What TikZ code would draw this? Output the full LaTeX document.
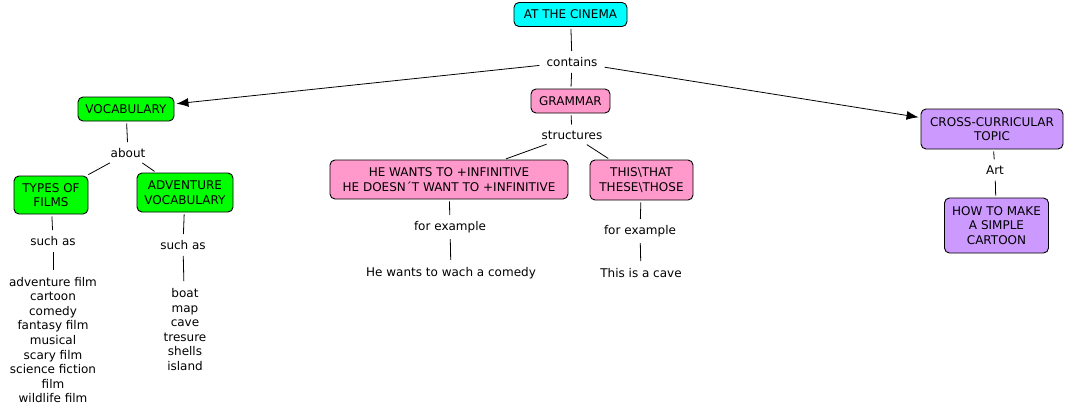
\documentclass[tikz,border=0pt]{standalone}
\usepackage{fontspec}
\setmainfont{DejaVu Sans}
\usetikzlibrary{arrows.meta}
\definecolor{cinemac}{HTML}{00FFFF}
\definecolor{vgreen}{HTML}{00FF00}
\definecolor{gpink}{HTML}{FF99CC}
\definecolor{cpurple}{HTML}{CC99FF}
\begin{document}
\begin{tikzpicture}[x=1pt,y=-1pt,
  font=\fontsize{12}{14.6}\selectfont,
  box/.style={draw=black, line width=0.9pt, rounded corners=5pt, align=center, inner xsep=6pt, inner ysep=2pt},
  lbl/.style={inner xsep=5pt, inner ysep=4pt, align=center},
  lst/.style={inner xsep=4pt, inner ysep=5pt, align=center},
  conn/.style={line width=0.8pt, shorten <=2pt, shorten >=2pt},
  arr/.style={conn, -{Latex[length=12pt,width=9pt]}}]
\useasboundingbox (0,0) rectangle (1066,413);
\fill[white] (0,0) rectangle (1066,413);
% nodes
\node[box, fill=cinemac, minimum width=113pt, minimum height=24pt] (cinema) at (570.5,14.5) {AT THE CINEMA};
\node[lbl] (contains) at (572,62) {contains};
\node[box, fill=vgreen, minimum width=96pt, minimum height=24pt] (vocab) at (126,109) {VOCABULARY};
\node[box, fill=gpink, minimum width=79pt, minimum height=24pt] (grammar) at (570.5,101) {GRAMMAR};
\node[box, fill=cpurple, minimum width=142pt, minimum height=40pt] (cross) at (992,129) {CROSS-CURRICULAR\\TOPIC};
\node[lbl] (about) at (128,153) {about};
\node[box, fill=vgreen, minimum width=74pt, minimum height=38pt] (types) at (51,195) {TYPES OF\\FILMS};
\node[box, fill=vgreen, minimum width=96pt, minimum height=39pt] (adv) at (185,192.5) {ADVENTURE\\VOCABULARY};
\node[lbl] (such1) at (53,241) {such as};
\node[lbl] (such2) at (183,245) {such as};
\node[lst] (films) at (53,340) {adventure film\\cartoon\\comedy\\fantasy film\\musical\\scary film\\science fiction\\film\\wildlife film};
\node[lst] (boats) at (185,329.5) {boat\\map\\cave\\tresure\\shells\\island};
\node[lbl] (structures) at (572,135) {structures};
\node[box, fill=gpink, minimum width=238pt, minimum height=39pt] (hewants) at (449,179.5) {HE WANTS TO +INFINITIVE\\HE DOESN´T WANT TO +INFINITIVE};
\node[box, fill=gpink, minimum width=103pt, minimum height=40pt] (this) at (641.5,180) {THIS\textbackslash THAT\\THESE\textbackslash THOSE};
\node[lbl] (fe1) at (450,227) {for example};
\node[lbl] (fe2) at (640,231) {for example};
\node[lst] (ex1) at (451,273) {He wants to wach a comedy};
\node[lst] (ex2) at (641,273) {This is a cave};
\node[lbl] (art) at (995,170) {Art};
\node[box, fill=cpurple, minimum width=104pt, minimum height=55pt] (howto) at (996.5,225.5) {HOW TO MAKE\\A SIMPLE\\CARTOON};
% connectors
\draw[conn] (cinema) -- (contains);
\draw[arr] (contains) -- (vocab);
\draw[conn] (contains) -- (grammar);
\draw[arr] (contains) -- (cross);
\draw[conn] (vocab) -- (about);
\draw[conn] (about) -- (types);
\draw[conn] (about) -- (adv);
\draw[conn] (types) -- (such1);
\draw[conn] (such1) -- (films);
\draw[conn] (adv) -- (such2);
\draw[conn] (such2) -- (boats);
\draw[conn] (grammar) -- (structures);
\draw[conn] (structures) -- (hewants);
\draw[conn] (structures) -- (this);
\draw[conn] (hewants) -- (fe1);
\draw[conn] (fe1) -- (ex1);
\draw[conn] (this) -- (fe2);
\draw[conn] (fe2) -- (ex2);
\draw[conn] (cross) -- (art);
\draw[conn] (art) -- (howto);
\end{tikzpicture}
\end{document}
